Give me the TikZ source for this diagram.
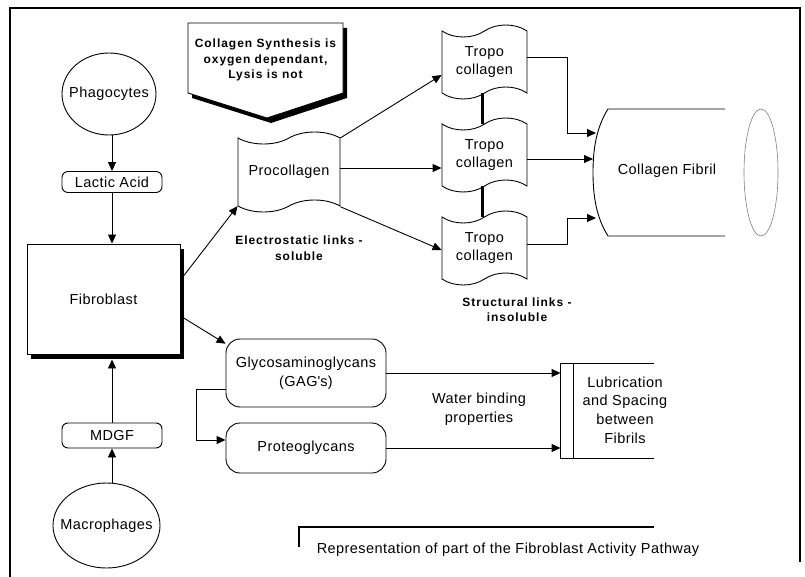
\documentclass[tikz,border=0pt]{standalone}
\usepackage{fontspec}
\setmainfont{Liberation Sans}[LetterSpace=3]
\newfontfamily\notefont{Liberation Sans}[LetterSpace=8]
\usetikzlibrary{shapes.geometric,shapes.symbols,shadows,arrows.meta}

\newcommand{\bodysize}{\fontsize{14.5}{18.7}\selectfont}
\newcommand{\notesize}{\notefont\bfseries\fontsize{12}{15.5}\selectfont}

\tikzset{
  cell/.style={draw, ellipse, inner sep=0pt},
  tag/.style={draw, rounded corners=6pt, minimum width=100pt, inner ysep=1pt},
  flag/.style={draw, tape, tape bend top=in and out, tape bend bottom=in and out,
    tape bend height=12pt, align=center, inner sep=0pt},
  pool/.style={draw, rounded corners=14pt, minimum width=160pt, align=center},
  arr/.style={-{Triangle[length=9pt,width=8pt]}},
  note/.style={font=\notesize, align=center},
  dark/.style={drop shadow={shadow xshift=4pt, shadow yshift=-5pt, fill=black, opacity=1}},
}

\begin{document}
\begin{tikzpicture}[x=1pt, y=-1pt, font=\bodysize, line width=0.9pt]
        \useasboundingbox (0,0) rectangle (805,577);

        % Frame.
        \draw[line width=2pt] (10,577) -- (10,8) -- (800,8) -- (800,562);

        % Cells and signals.
        \node[cell, minimum width=94pt, minimum height=82pt, label=center:Phagocytes] (phago) at (109,94) {};
        \node[tag, minimum height=21pt] (lactic) at (112,182) {Lactic Acid};
        \node[draw, fill=white, dark, minimum width=153pt, minimum height=110pt] (fibro) at (103.5,299) {Fibroblast};
        \node[tag, minimum height=25pt] (mdgf) at (112,435.5) {MDGF};
        \node[cell, minimum width=107pt, minimum height=85pt, label=center:Macrophages] (macro) at (106.5,525.5) {};

        \draw[arr] (lactic.north |- phago.south) -- (lactic.north);
        \draw[arr] (lactic.south) -- (lactic.south |- fibro.north);
        \draw[arr, shorten >=5pt] (mdgf.north) -- (mdgf.north |- fibro.south);
        \draw[arr] (mdgf.south |- macro.north) -- (mdgf.south);

        % Note.
        \draw[fill=white, dark] (188,23) -- (343,23) -- (343,93) -- (267,118) -- (188,93) -- cycle;
        \node[note] (synth) at (265.5,60) {Collagen Synthesis is\\oxygen dependant,\\Lysis is not};

        % Collagen.
        \node[flag, minimum width=102pt, minimum height=80pt] (procoll) at (289,172) {Procollagen};
        \node[flag, minimum width=85pt, minimum height=74pt] (tropo1) at (484.5,62) {Tropo\\collagen};
        \node[flag, minimum width=85pt, minimum height=74pt] (tropo2) at (484.5,155) {Tropo\\collagen};
        \node[flag, minimum width=85pt, minimum height=74pt] (tropo3) at (484.5,248) {Tropo\\collagen};
        \draw[line width=3pt] ([xshift=-2.5pt]tropo1.south) -- ([xshift=-2.5pt]tropo2.north);
        \draw[line width=3pt] ([xshift=-2.5pt]tropo2.south) -- ([xshift=-2.5pt]tropo3.north);

        \draw[arr] ([yshift=19pt]fibro.east) -- (procoll.south west);
        \draw[arr] (procoll.north east) -- ([yshift=-13pt]tropo1.west);
        \draw[arr] ([yshift=4pt]procoll.east) -- ([yshift=4pt]procoll.east -| tropo2.west);
        \draw[arr] (procoll.south east) -- ([yshift=-2pt]tropo3.west);

        \node[note] (elec) at (299,248) {Electrostatic links -\\soluble};
        \node[note] (struct) at (517,309.5) {Structural links -\\insoluble};

        % Fibril.
        \draw (725,109) -- (608,109) .. controls (596,128) and (593,150) .. (593,172.5)
              .. controls (593,195) and (596,217) .. (608,236) -- (725,236);
        \draw[gray, line width=0.6pt] (761,172.5) ellipse [x radius=17, y radius=63.5];
        \node (fibril) at (667,171) {Collagen Fibril};
        \coordinate (F1) at (596,133);
        \coordinate (F2) at (593,159);
        \coordinate (F3) at (596,218);

        \draw[arr] ([yshift=5pt]tropo1.east) -- ++(40,0) |- (F1);
        \draw[arr] ([yshift=-4pt]tropo2.east) -- (F2);
        \draw[arr] ([yshift=4pt]tropo3.east) -- ++(40,0) |- (F3);

        % Ground substance.
        \node[pool, minimum height=68pt] (gag) at (306,373) {Glycosaminoglycans\\(GAG\textquotesingle s)};
        \node[pool, minimum height=50pt] (proteo) at (306,448) {Proteoglycans};
        \draw[arr] ([yshift=-17pt]fibro.east) -- (gag.160);
        \draw[arr] ([yshift=-16pt]gag.west) -- ++(-29,0) |- ([yshift=8pt]proteo.west);

        \node[minimum width=93pt, minimum height=94pt] (lube) at (607.5,411) {};
        \draw (lube.north east) -- (lube.north west) -- (lube.south west) -- (lube.south east);
        \draw ([xshift=13pt]lube.north west) -- ([xshift=13pt]lube.south west);
        \node[align=center] (lubetext) at (625,410) {Lubrication\\and Spacing\\between\\Fibrils};
        \node[align=center] (water) at (479,409.5) {Water binding\\properties};

        \draw[arr] (gag.east) -- (gag.east -| lube.west);
        \draw[arr] (proteo.east) -- (proteo.east -| lube.west);

        % Caption.
        \draw[line width=1.5pt] (299,547) -- (299,527) -- (654,527);
        \node (caption) at (508,550) {Representation of part of the Fibroblast Activity Pathway};
\end{tikzpicture}
\end{document}
